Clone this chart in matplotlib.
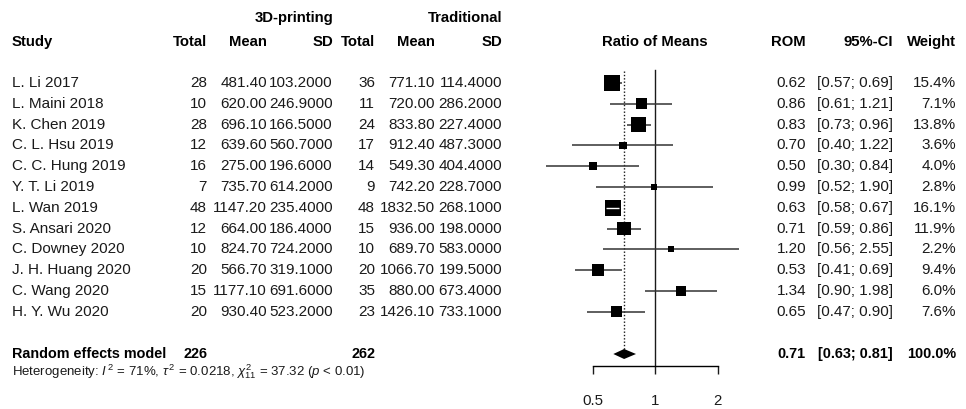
import numpy as np
import matplotlib.pyplot as plt

plt.rcParams['font.family'] = ['Liberation Sans', 'DejaVu Sans']
plt.rcParams['mathtext.fontset'] = 'custom'
plt.rcParams['mathtext.rm'] = 'Liberation Sans'
plt.rcParams['mathtext.it'] = 'Liberation Sans:italic'
plt.rcParams['mathtext.bf'] = 'Liberation Sans:bold'

# Study data
studies = ['L. Li 2017', 'L. Maini 2018', 'K. Chen 2019', 'C. L. Hsu 2019', 'C. C. Hung 2019',
           'Y. T. Li 2019', 'L. Wan 2019', 'S. Ansari 2020', 'C. Downey 2020', 'J. H. Huang 2020',
           'C. Wang 2020', 'H. Y. Wu 2020']
n_3d = [28, 10, 28, 12, 16, 7, 48, 12, 10, 20, 15, 20]
mean_3d = [481.40, 620.00, 696.10, 639.60, 275.00, 735.70, 1147.20, 664.00, 824.70, 566.70, 1177.10, 930.40]
sd_3d = [103.2, 246.9, 166.5, 560.7, 196.6, 614.2, 235.4, 186.4, 724.2, 319.1, 691.6, 523.2]
n_trad = [36, 11, 24, 17, 14, 9, 48, 15, 10, 20, 35, 23]
mean_trad = [771.10, 720.00, 833.80, 912.40, 549.30, 742.20, 1832.50, 936.00, 689.70, 1066.70, 880.00, 1426.10]
sd_trad = [114.4, 286.2, 227.4, 487.3, 404.4, 228.7, 268.1, 198.0, 583.0, 199.5, 673.4, 733.1]
rom = [0.62, 0.86, 0.83, 0.70, 0.50, 0.99, 0.63, 0.71, 1.20, 0.53, 1.34, 0.65]
ci_low = [0.57, 0.61, 0.73, 0.40, 0.30, 0.52, 0.58, 0.59, 0.56, 0.41, 0.90, 0.47]
ci_high = [0.69, 1.21, 0.96, 1.22, 0.84, 1.90, 0.67, 0.86, 2.55, 0.69, 1.98, 0.90]
weight = [15.4, 7.1, 13.8, 3.6, 4.0, 2.8, 16.1, 11.9, 2.2, 9.4, 6.0, 7.6]

# Pooled (random effects)
pooled = 0.71
pooled_low = 0.63
pooled_high = 0.81
pooled_weight = 100.0
total_3d = 226
total_trad = 262
het_text = (r'Heterogeneity: $\mathit{I}^{\,2}$ = 71%, $\tau^{\,2}$ = 0.0218, '
            r'$\chi^2_{11}$ = 37.32 ($\mathit{p}$ < 0.01)')

xticks = [0.5, 1, 2]
xtick_labels = ['0.5', '1', '2']

# Layout (pixels)
W, H = 966, 409
row0, row_h = 83, 20.8


def row(py):
    return (py - row0) / row_h


fs = 11
fs_head = 10.7
fs_pool = 10.4
txt = '#1a1a1a'

fig = plt.figure(figsize=(W / 100, H / 100), dpi=100)
ax = fig.add_axes([0, 0, 1, 1])
ax.set_xlim(0, W)
ax.set_ylim(row(H), row(0))
ax.axis('off')

# header
hy1, hy2 = row(18), row(42)
ax.text(333, hy1, '3D-printing', ha='right', va='center', fontsize=fs_head, fontweight='bold')
ax.text(502, hy1, 'Traditional', ha='right', va='center', fontsize=fs_head, fontweight='bold')
ax.text(12, hy2, 'Study', ha='left', va='center', fontsize=fs_head, fontweight='bold')
for xr, lab in [(207, 'Total'), (267, 'Mean'), (333, 'SD'), (375, 'Total'), (435, 'Mean'),
                (502, 'SD'), (806, 'ROM'), (893, '95%-CI'), (956, 'Weight')]:
    ax.text(xr, hy2, lab, ha='right', va='center', fontsize=fs_head, fontweight='bold')
ax.text(655, hy2, 'Ratio of Means', ha='center', va='center', fontsize=fs_head, fontweight='bold')

# study rows
for i, s in enumerate(studies):
    cols = [(207, f'{n_3d[i]}'), (267, f'{mean_3d[i]:.2f}'), (333, f'{sd_3d[i]:.4f}'),
            (375, f'{n_trad[i]}'), (435, f'{mean_trad[i]:.2f}'), (502, f'{sd_trad[i]:.4f}'),
            (806, f'{rom[i]:.2f}'), (893, f'[{ci_low[i]:.2f}; {ci_high[i]:.2f}]'),
            (956, f'{weight[i]:.1f}%')]
    ax.text(12, i, s, ha='left', va='center', fontsize=fs, color=txt)
    for xr, lab in cols:
        ax.text(xr, i, lab, ha='right', va='center', fontsize=fs, color=txt)

# pooled row
py = row(354)
ax.text(12, py, 'Random effects model', ha='left', va='center', fontsize=fs_pool, fontweight='bold')
ax.text(207, py, f'{total_3d}', ha='right', va='center', fontsize=fs_pool, fontweight='bold')
ax.text(375, py, f'{total_trad}', ha='right', va='center', fontsize=fs_pool, fontweight='bold')
ax.text(806, py, f'{pooled:.2f}', ha='right', va='center', fontsize=fs_pool, fontweight='bold')
ax.text(893, py, f'[{pooled_low:.2f}; {pooled_high:.2f}]', ha='right', va='center',
        fontsize=fs_pool, fontweight='bold')
ax.text(956, py, f'{pooled_weight:.1f}%', ha='right', va='center', fontsize=fs_pool, fontweight='bold')
ax.text(12, row(372), het_text, ha='left', va='center', fontsize=9.5, color=txt)

# forest panel: log2 scale, 1 at x=655px, 62.5 px per doubling
x1, ppd = 655, 62.5
left_px, right_px, top_px, bot_px = 530, 770, 60, 366
fa = fig.add_axes([left_px / W, 1 - bot_px / H, (right_px - left_px) / W, (bot_px - top_px) / H])
fa.patch.set_alpha(0)
fa.set_xscale('log', base=2)
fa.set_xlim(2 ** ((left_px - x1) / ppd), 2 ** ((right_px - x1) / ppd))
fa.set_ylim(row(bot_px), row(top_px))
for sp in ['top', 'left', 'right']:
    fa.spines[sp].set_visible(False)
fa.spines['bottom'].set_bounds(xticks[0], xticks[-1])
fa.spines['bottom'].set_linewidth(1.0)
fa.set_xticks(xticks)
fa.set_xticklabels(xtick_labels)
fa.minorticks_off()
fa.set_yticks([])
fa.tick_params(axis='x', length=6, width=1.0, pad=14, labelsize=10.8, colors='#1a1a1a')

fa.plot([1, 1], [row(70), row(bot_px)], color='#1a1a1a', lw=1.0, zorder=1)
fa.plot([pooled, pooled], [row(71), row(349)], color='#1a1a1a', lw=1.0,
        linestyle=(0, (1, 1.4)), zorder=1)

ys = np.arange(len(studies))
fa.hlines(ys, ci_low, ci_high, color='#333333', lw=1.1, zorder=2)
side_px = 4.0 * np.sqrt(weight)
fa.scatter(rom, ys, marker='s', s=(side_px * 0.72) ** 2, color='black', linewidths=0, zorder=3)
# CI lines that fit inside the box are drawn white
for i in range(len(studies)):
    half = side_px[i] / 2 / ppd
    if np.log2(ci_low[i] / rom[i]) > -half and np.log2(ci_high[i] / rom[i]) < half:
        fa.hlines(i, ci_low[i], ci_high[i], color='white', lw=1.0, zorder=4)

dh = 5 / row_h
fa.fill([pooled_low, pooled, pooled_high, pooled], [py, py - dh, py, py + dh],
        color='black', lw=0, zorder=3)

fig.savefig('out.png', dpi=100)
